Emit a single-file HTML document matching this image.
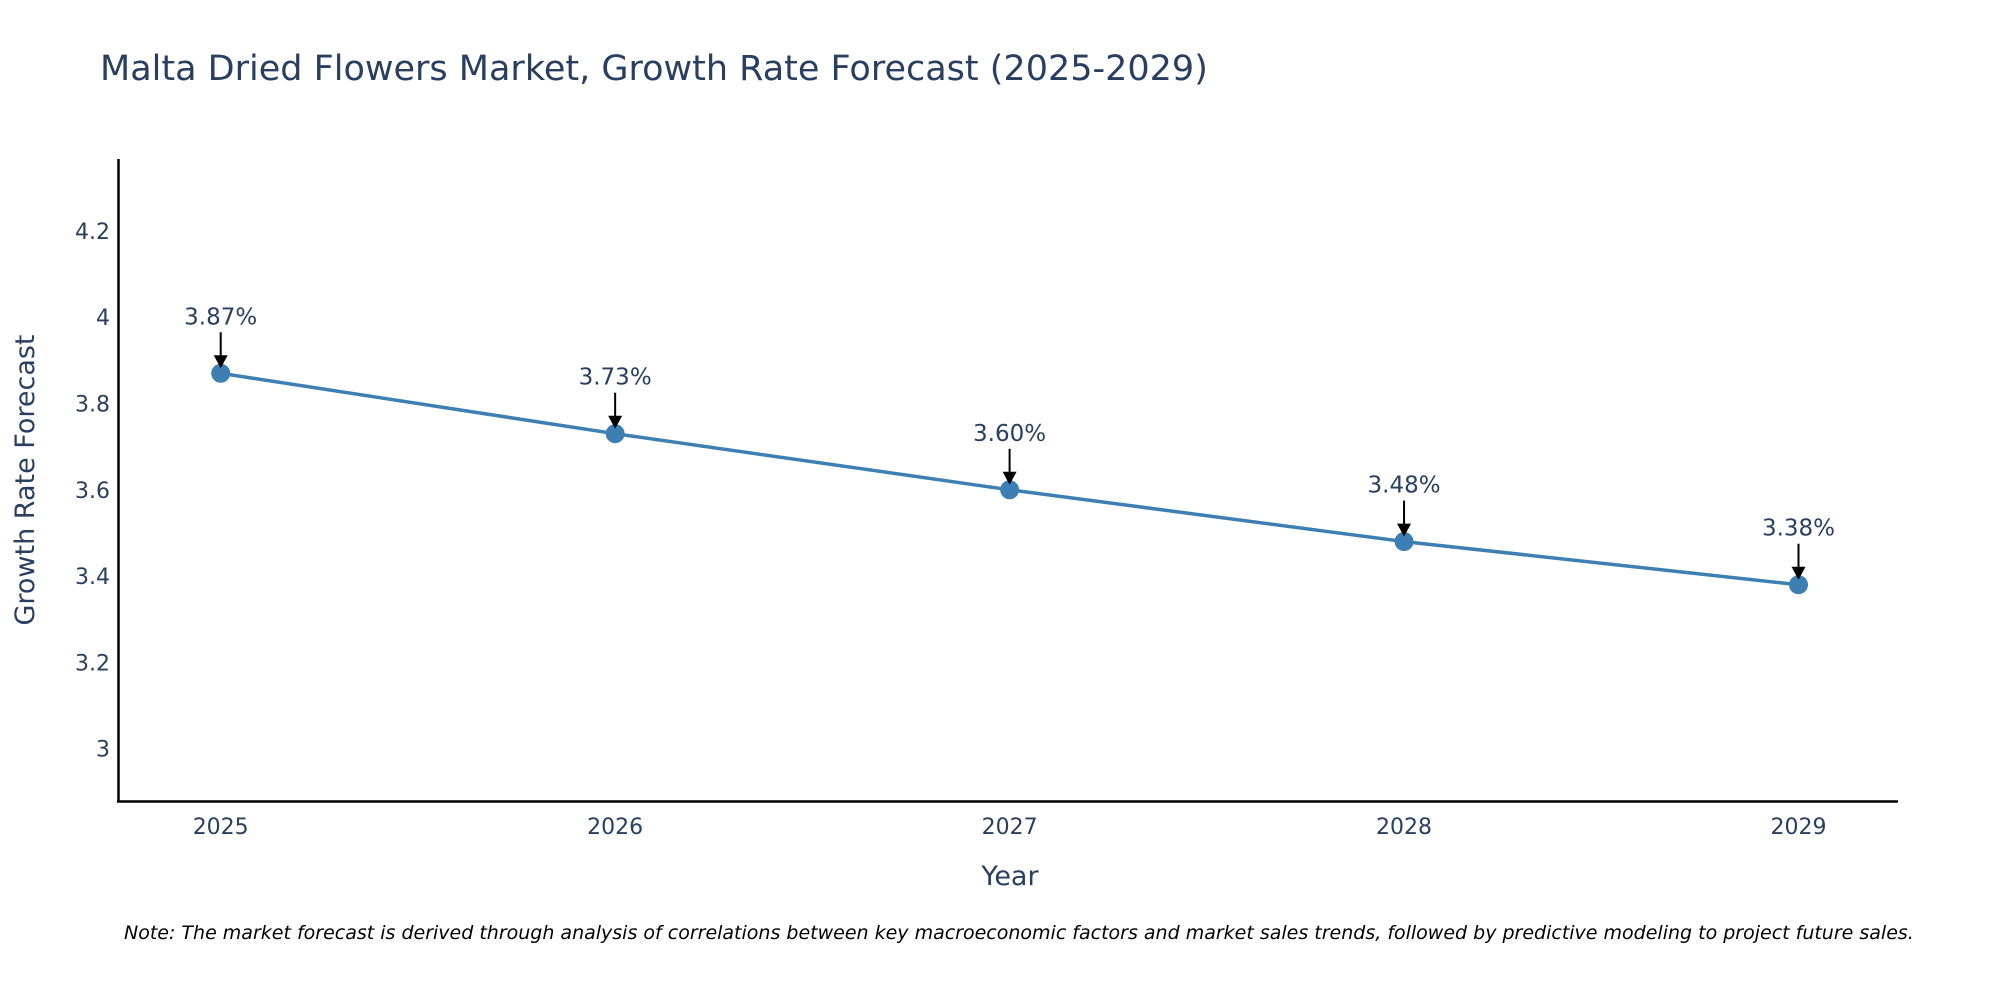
<!DOCTYPE html>
<html><head><meta charset="utf-8"><style>
body{margin:0;background:#fff;}
svg{display:block;font-family:"DejaVu Sans","Liberation Sans",sans-serif;}
</style></head><body>
<svg id="chart" width="2000" height="1000">
<text x="100" y="80" font-size="35" fill="#2a3f5f">Malta Dried Flowers Market, Growth Rate Forecast (2025-2029)</text>
<g id="yticks"></g><g id="xticks"></g>
<line x1="118.5" y1="159" x2="118.5" y2="802" stroke="#000" stroke-width="2.5"/>
<line x1="117" y1="801.5" x2="1898" y2="801.5" stroke="#000" stroke-width="2.5"/>
<g id="series"></g>
<text transform="translate(34,480) rotate(-90)" text-anchor="middle" font-size="27" fill="#2a3f5f">Growth Rate Forecast</text>
<text x="1010" y="885" text-anchor="middle" font-size="27" fill="#2a3f5f">Year</text>
<text x="124" y="939" font-size="19" font-style="oblique" fill="#000">Note: The market forecast is derived through analysis of correlations between key macroeconomic factors and market sales trends, followed by predictive modeling to project future sales.</text>
</svg>
<script>
const years = [2025, 2026, 2027, 2028, 2029];
const rates = [3.87, 3.73, 3.60, 3.48, 3.38];
const yTickValues = [3, 3.2, 3.4, 3.6, 3.8, 4, 4.2];
const yTickLabels = ["3", "3.2", "3.4", "3.6", "3.8", "4", "4.2"];
const NS = "http://www.w3.org/2000/svg";
function xs(v){ return 220.7 + (v - 2025) * (1798.5 - 220.7) / 4; }
function ys(v){ return 748.7 - (v - 3) * 431.5; }
function mk(tag, attrs, parent){ const e=document.createElementNS(NS,tag); for(const k in attrs) e.setAttribute(k,attrs[k]); parent.appendChild(e); return e; }
const yt=document.getElementById('yticks'), xt=document.getElementById('xticks'), s=document.getElementById('series');
yTickValues.forEach((v,i)=>{
  const t=mk('text',{x:110,y:ys(v)+8,'text-anchor':'end','font-size':22,fill:'#2a3f5f'},yt);
  
  
  t.textContent=yTickLabels[i];
});
years.forEach(y=>{
  const t=mk('text',{x:xs(y),y:834,'text-anchor':'middle','font-size':22,fill:'#2a3f5f'},xt);
  
  
  t.textContent=String(y);
});
const pts=years.map((y,i)=>xs(y)+','+ys(rates[i])).join(' ');
const line=mk('polyline',{points:pts,fill:'none',stroke:'#3d7fb3','stroke-width':3.5},s);


years.forEach((y,i)=>{
  const cx=xs(y), cy=ys(rates[i]);
  const c=mk('circle',{cx:cx,cy:cy,r:9.5,fill:'#3d7fb3'},s);
  
  
  const a=mk('line',{x1:cx,y1:cy-41,x2:cx,y2:cy-16,stroke:'#000','stroke-width':2},s);
  
  
  const h=mk('polygon',{points:`${cx-7},${cy-18} ${cx+7},${cy-18} ${cx},${cy-5}`,fill:'#000'},s);
  
  
  const t=mk('text',{x:cx,y:cy-49,'text-anchor':'middle','font-size':23,fill:'#2a3f5f'},s);
  
  
  t.textContent=rates[i].toFixed(2)+'%';
});
</script>
</body></html>
